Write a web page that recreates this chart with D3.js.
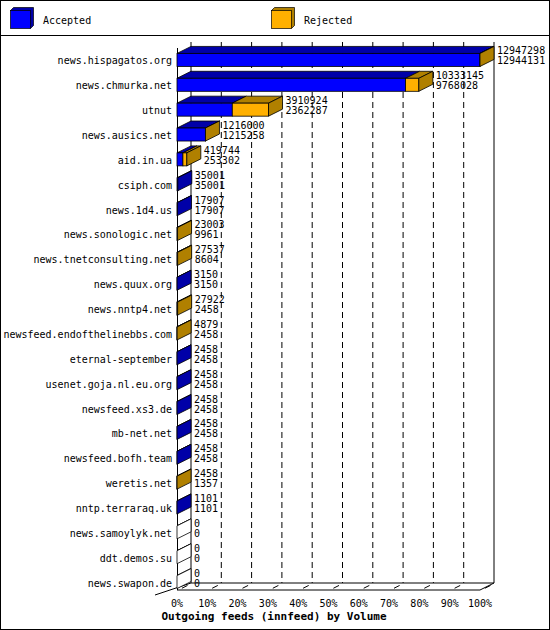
<!DOCTYPE html>
<html><head><meta charset="utf-8">
<script src="https://cdn.jsdelivr.net/npm/d3@7"></script>
<style>body{margin:0;background:#fff}text{font-family:"DejaVu Sans Mono",monospace}</style>
</head><body><svg id="chart" width="550" height="630"></svg>
<script>
var hosts = ['news.hispagatos.org','news.chmurka.net','utnut','news.ausics.net','aid.in.ua','csiph.com','news.1d4.us','news.sonologic.net','news.tnetconsulting.net','news.quux.org','news.nntp4.net','newsfeed.endofthelinebbs.com','eternal-september','usenet.goja.nl.eu.org','newsfeed.xs3.de','mb-net.net','newsfeed.bofh.team','weretis.net','nntp.terraraq.uk','news.samoylyk.net','ddt.demos.su','news.swapon.de']
var accepted = [12947298,10333145,3910924,1216000,419744,35001,17907,23003,27537,3150,27922,4879,2458,2458,2458,2458,2458,2458,1101,0,0,0]
var rejected = [12944131,9768028,2362287,1215258,253302,35001,17907,9961,8604,3150,2458,2458,2458,2458,2458,2458,2458,1357,1101,0,0,0]
var ticks = [0,10,20,30,40,50,60,70,80,90,100]

var svg = d3.select('#chart')
var dx = 14, dy = -7
var fs = 10
var x = d3.scaleLinear().domain([0, 12947298]).range([177, 480])
var y = d3.scaleBand().domain(hosts).range([48, 595])
var blue = '#0000ff', blueDark = '#0000a8', orange = '#ffb000', orangeDark = '#b08000'

svg.append('rect').attr('x', 0.5).attr('y', 0.5).attr('width', 549).attr('height', 629).attr('fill', 'none').attr('stroke', '#000')
svg.append('line').attr('x1', 0).attr('x2', 550).attr('y1', 35.5).attr('y2', 35.5).attr('stroke', '#000')

// legend
function cube (g, x0, y0, w, h, c, cd) {
  g.append('path').attr('d', 'M' + x0 + ',' + y0 + 'l3,-3h' + w + 'v' + h + 'l-3,3z').attr('fill', cd).attr('stroke', '#000').attr('stroke-width', 0.7)
  g.append('rect').attr('x', x0).attr('y', y0).attr('width', w).attr('height', h).attr('fill', c).attr('stroke', '#000').attr('stroke-width', 0.7)
}
var lg = svg.append('g')
cube(lg, 10.5, 10.5, 20, 18, blue, blueDark)
lg.append('text').attr('x', 43).attr('y', 24).attr('font-size', fs).text('Accepted')
cube(lg, 271.5, 10.5, 20, 18, orange, orangeDark)
lg.append('text').attr('x', 304).attr('y', 24).attr('font-size', fs).text('Rejected')

var x0 = x(0), yb = 590
// walls and gridlines
ticks.forEach(function (t) {
  var gx = x(t / 100 * 12947298) + dx
  svg.append('line').attr('x1', gx).attr('x2', gx).attr('y1', 42).attr('y2', yb + dy)
    .attr('stroke', '#000').attr('stroke-dasharray', (t === 0 || t === 100) ? null : '6,4')
  var fx = x(t / 100 * 12947298)
  svg.append('line').attr('x1', fx + dx * 0.35).attr('x2', fx + dx * 0.75).attr('y1', yb + dy * 0.25).attr('y2', yb + dy * 0.65).attr('stroke', '#000')
  svg.append('text').attr('x', fx).attr('y', 607).attr('text-anchor', 'middle').attr('font-size', fs).text(t + '%')
})
svg.append('line').attr('x1', x0 + 0.5).attr('x2', x0 + 0.5).attr('y1', 48).attr('y2', yb).attr('stroke', '#000')
svg.append('line').attr('x1', x0 + dx).attr('x2', x(12947298) + dx).attr('y1', yb + dy).attr('y2', yb + dy).attr('stroke', '#000')
svg.append('line').attr('x1', x0).attr('x2', x(12947298)).attr('y1', yb).attr('y2', yb).attr('stroke', '#000')
svg.append('line').attr('x1', x(12947298)).attr('x2', x(12947298) + dx).attr('y1', yb).attr('y2', yb + dy).attr('stroke', '#000')
svg.append('line').attr('x1', 155).attr('x2', x0 + dx).attr('y1', yb + 5).attr('y2', yb + dy).attr('stroke', '#000')

// bars
hosts.forEach(function (h, i) {
  var a = accepted[i], r = rejected[i]
  var c = y(h) + y.bandwidth() / 2
  var top = c - 7, bh = 13
  var xr = x(r), xa = x(a)
  var g = svg.append('g').attr('stroke', '#000').attr('stroke-width', 0.8)
  var endDark = a === 0 ? '#fff' : (a > r ? orangeDark : blueDark)
  g.append('path').attr('d', 'M' + x0 + ',' + top + 'l' + dx + ',' + dy + 'H' + (xr + dx) + 'l' + (-dx) + ',' + (-dy) + 'z').attr('fill', a === 0 ? '#fff' : blueDark)
  if (a > r) g.append('path').attr('d', 'M' + xr + ',' + top + 'l' + dx + ',' + dy + 'H' + (xa + dx) + 'l' + (-dx) + ',' + (-dy) + 'z').attr('fill', orangeDark)
  if (r > 0) g.append('rect').attr('x', x0).attr('y', top).attr('width', xr - x0).attr('height', bh).attr('fill', blue)
  if (a > r) g.append('rect').attr('x', xr).attr('y', top).attr('width', xa - xr).attr('height', bh).attr('fill', orange)
  g.append('path').attr('d', 'M' + xa + ',' + top + 'l' + dx + ',' + dy + 'v' + bh + 'l' + (-dx) + ',' + (-dy) + 'z').attr('fill', endDark)
  svg.append('text').attr('x', 172).attr('y', c + 4).attr('text-anchor', 'end').attr('font-size', fs).text(h)
  svg.append('text').attr('x', xa + dx + 3).attr('y', c - 6).attr('font-size', fs).text(a)
  svg.append('text').attr('x', xa + dx + 3).attr('y', c + 4).attr('font-size', fs).text(r)
})

svg.append('text').attr('x', 274).attr('y', 620).attr('text-anchor', 'middle').attr('font-size', 11).attr('font-weight', 'bold').text('Outgoing feeds (innfeed) by Volume')
</script></body></html>
